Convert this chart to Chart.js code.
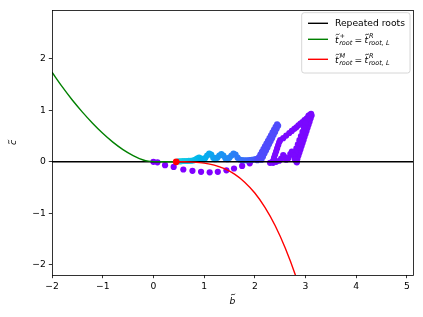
<!DOCTYPE html>
<html><head><meta charset="utf-8">
<script src="https://cdn.jsdelivr.net/npm/chart.js@4"></script>
<style>html,body{margin:0;padding:0;background:#fff;}canvas{display:block;}</style>
</head><body>
<canvas id="c" width="423" height="317"></canvas>
<script>
const xTicks=[-2,-1,0,1,2,3,4,5];
const yTicks=[-2,-1,0,1,2];
const xRange=[-2,5.12];
const yRange=[-2.2,2.95];

const repeatedX=[-2,5.12];
const repeatedY=[0,0];

const greenX=[-2,-1.8,-1.6,-1.4,-1.2,-1.0,-0.8,-0.6,-0.4,-0.2,-0.1,0,0.2,0.45];
const greenY=[1.74,1.46,1.20,0.965,0.75,0.554,0.383,0.238,0.122,0.035,0.012,0.004,0,0];

const redX=[0.45,0.6,0.8,1.0,1.2,1.4,1.6,1.8,2.0,2.2,2.4,2.6,2.8,2.85];
const redY=[0,-0.0004,-0.006,-0.025,-0.064,-0.133,-0.241,-0.396,-0.607,-0.885,-1.237,-1.674,-2.2,-2.36];

const dotX=[0.45];
const dotY=[0];

const arcX=[0.00,0.08,0.23,0.40,0.59,0.77,0.94,1.11,1.27,1.44,1.59,1.75,1.90];
const arcY=[0.00,-0.01,-0.065,-0.10,-0.15,-0.175,-0.195,-0.205,-0.195,-0.165,-0.13,-0.08,-0.03];
const arcC=0.0;

const bandX=[0.50,0.54,0.58,0.62,0.66,0.70,0.74,0.78,0.82,0.86,0.90,0.94,0.98,1.02,1.06,1.10,1.14,1.18,1.22,1.26,1.30,1.34,1.38,1.42,1.46,1.50,1.54,1.58,1.62,1.66,1.70,1.74,1.78,1.82,1.86,1.90,1.94,1.98,2.02,2.06];
const bandY=[0.01,0.01,0.015,0.015,0.015,0.02,0.02,0.025,0.04,0.06,0.08,0.06,0.04,0.07,0.12,0.16,0.14,0.08,0.05,0.08,0.12,0.15,0.12,0.07,0.05,0.08,0.12,0.16,0.14,0.08,0.045,0.035,0.03,0.03,0.03,0.035,0.04,0.045,0.05,0.05];
const bandC=[0.30,0.30,0.295,0.29,0.285,0.28,0.275,0.27,0.265,0.26,0.255,0.25,0.245,0.24,0.235,0.23,0.225,0.22,0.215,0.21,0.205,0.20,0.195,0.19,0.185,0.18,0.175,0.17,0.165,0.16,0.155,0.15,0.145,0.14,0.135,0.13,0.125,0.12,0.115,0.11];

const spikeX=[2.05,2.08,2.11,2.14,2.17,2.20,2.23,2.26,2.29,2.32,2.35,2.38,2.41,2.44,2.46,2.43,2.40,2.37,2.34,2.31,2.28,2.25,2.22,2.19,2.16,2.13];
const spikeY=[0.03,0.084,0.138,0.192,0.246,0.30,0.354,0.408,0.462,0.516,0.57,0.624,0.678,0.73,0.70,0.64,0.58,0.52,0.46,0.40,0.34,0.28,0.22,0.16,0.10,0.04];
const spikeC=0.095;

const loopX=[2.36,2.38,2.40,2.42,2.44,2.46,2.48,2.50,
 2.56,2.62,2.68,2.73,2.78,2.82,2.86,2.90,2.94,2.98,3.02,3.06,3.09,3.11,
 3.12,3.10,3.08,3.06,3.04,3.02,3.00,2.98,2.96,2.94,2.92,2.90,2.88,2.86,2.84,2.82,
 3.06,3.03,3.00,2.97,2.94,2.91,2.88,2.85,2.82,2.80,2.78,
 2.30,2.36,2.42,2.48,2.52,2.56,2.59,2.62,2.66,2.70,2.73,2.76,2.79,2.83];
const loopY=[0.02,0.08,0.14,0.20,0.26,0.32,0.38,0.42,
 0.46,0.51,0.56,0.60,0.64,0.67,0.71,0.74,0.77,0.81,0.84,0.88,0.91,0.93,
 0.90,0.84,0.78,0.72,0.66,0.60,0.54,0.48,0.42,0.36,0.30,0.24,0.18,0.12,0.06,0.00,
 0.90,0.82,0.74,0.66,0.58,0.50,0.42,0.34,0.26,0.18,0.10,
 -0.02,-0.02,0.0,0.02,0.06,0.13,0.09,0.04,0.07,0.15,0.20,0.13,0.05,-0.01];
const loopC=0.01;

function rainbow(c){
  const r=Math.abs(2*c-0.5), g=Math.sin(Math.PI*c), b=Math.cos(Math.PI*c/2);
  return 'rgb('+Math.round(r*255)+','+Math.round(g*255)+','+Math.round(b*255)+')';
}
const pts=(xs,ys)=>xs.map((x,i)=>({x:x,y:ys[i]}));
const FONT='"DejaVu Sans"';
const FS=9.2;
function fmt(v){return v<0?'\u2212'+Math.abs(v):String(v);}

function scatterDS(xs,ys,colors,order){
  return {type:'scatter',data:pts(xs,ys),showLine:false,pointRadius:3.1,pointBorderWidth:0,
    pointBackgroundColor:colors,pointHoverRadius:3.1,order:order};
}
function tilde(ctx,cx,cy,w){
  const x0=cx-w/2;
  ctx.save();
  ctx.beginPath();
  ctx.moveTo(x0,cy+0.7);
  ctx.bezierCurveTo(x0+w*0.3,cy-1.3,x0+w*0.7,cy+1.3,x0+w,cy-0.7);
  ctx.lineWidth=0.75;ctx.strokeStyle='#000';ctx.stroke();
  ctx.restore();
}

const framePlugin={
  id:'frame',
  afterDraw(chart){
    const ctx=chart.ctx, a=chart.chartArea;
    ctx.save();
    ctx.strokeStyle='#000'; ctx.lineWidth=0.8;
    ctx.strokeRect(Math.round(a.left)+0.5,Math.round(a.top)+0.5,Math.round(a.right-a.left),Math.round(a.bottom-a.top));
    // axis titles
    ctx.fillStyle='#000';
    ctx.font='italic '+FS+'px '+FONT;
    ctx.textAlign='left'; ctx.textBaseline='alphabetic';
    const cxl=(a.left+a.right)/2;
    const wb=ctx.measureText('b').width;
    ctx.fillText('b',cxl-wb/2,304);
    tilde(ctx,cxl+0.6,294.5,4.2);
    ctx.save();
    ctx.translate(16,(a.top+a.bottom)/2);
    ctx.rotate(-Math.PI/2);
    const wc=ctx.measureText('c').width;
    ctx.fillText('c',-wc/2,0);
    tilde(ctx,0.6,-7.3,4.2);
    ctx.restore();
    // legend
    const bx=a.right-111.3, by=a.top+2.7, bw=108.3, bh=60.3;
    ctx.beginPath();
    const r=2.5;
    ctx.moveTo(bx+r,by);ctx.lineTo(bx+bw-r,by);ctx.quadraticCurveTo(bx+bw,by,bx+bw,by+r);
    ctx.lineTo(bx+bw,by+bh-r);ctx.quadraticCurveTo(bx+bw,by+bh,bx+bw-r,by+bh);
    ctx.lineTo(bx+r,by+bh);ctx.quadraticCurveTo(bx,by+bh,bx,by+bh-r);
    ctx.lineTo(bx,by+r);ctx.quadraticCurveTo(bx,by,bx+r,by);ctx.closePath();
    ctx.fillStyle='rgba(255,255,255,0.8)';ctx.fill();
    ctx.strokeStyle='#cccccc';ctx.lineWidth=0.8;ctx.stroke();
    const hx0=bx+6.3, hx1=bx+26.3, tx=bx+33.3;
    const rows=[{y:by+10.6,c:'#000'},{y:by+26.6,c:'#008000'},{y:by+46.6,c:'#ff0000'}];
    rows.forEach(rw=>{ctx.beginPath();ctx.moveTo(hx0,rw.y);ctx.lineTo(hx1,rw.y);ctx.strokeStyle=rw.c;ctx.lineWidth=1.4;ctx.stroke();});
    ctx.fillStyle='#000';
    ctx.textAlign='left';ctx.textBaseline='middle';
    ctx.font=FS+'px '+FONT;
    ctx.fillText('Repeated roots',tx,rows[0].y);
    ctx.textBaseline='alphabetic';
    drawEq(ctx,tx,rows[1].y+3.3,'+');
    drawEq(ctx,tx,rows[2].y+3.3,'M');
    ctx.restore();
  }
};
function drawTerm(ctx,x,y,sup,sub){
  ctx.font='italic '+FS+'px '+FONT;
  ctx.fillText('t',x,y);
  const wt=ctx.measureText('t').width;
  tilde(ctx,x+wt/2+0.8,y-8.2,3.8);
  x+=wt+0.6;
  ctx.font='italic 6.5px '+FONT;
  const ws=ctx.measureText(sup).width, wb=ctx.measureText(sub).width;
  ctx.fillText(sup,x+0.4,y-4.6);
  ctx.fillText(sub,x,y+2.4);
  return x+Math.max(ws,wb);
}
function drawEq(ctx,x,y,sup){
  x=drawTerm(ctx,x,y,sup,'root');
  ctx.font=FS+'px '+FONT;
  x+=2.2;
  ctx.fillText('=',x,y);
  x+=ctx.measureText('=').width+2.2;
  drawTerm(ctx,x,y,'R','root, L');
}

const axisCommon={
  grid:{drawOnChartArea:false,drawTicks:true,tickLength:3.2,color:'#000',lineWidth:0.8},
  border:{display:false},
  ticks:{padding:3,color:'#000',font:{family:'DejaVu Sans',size:FS},callback:v=>fmt(v),maxRotation:0,autoSkip:false}
};

new Chart(document.getElementById('c'),{
  data:{datasets:[
    scatterDS(arcX,arcY,rainbow(arcC),14),
    scatterDS(bandX,bandY,bandC.map(rainbow),13),
    scatterDS(loopX,loopY,rainbow(loopC),12),
    scatterDS(spikeX,spikeY,rainbow(spikeC),11),
    {type:'line',data:pts(repeatedX,repeatedY),borderColor:'#000',borderWidth:1.4,pointRadius:0,order:3},
    {type:'line',data:pts(greenX,greenY),borderColor:'#008000',borderWidth:1.4,pointRadius:0,cubicInterpolationMode:'monotone',order:2},
    {type:'line',data:pts(redX,redY),borderColor:'#ff0000',borderWidth:1.4,pointRadius:0,cubicInterpolationMode:'monotone',order:1},
    {type:'scatter',data:pts(dotX,dotY),pointRadius:3.4,pointBorderWidth:0,pointBackgroundColor:'#ff0000',order:0}
  ]},
  options:{
    responsive:false,animation:false,devicePixelRatio:1,
    layout:{padding:{left:0,right:10,top:10,bottom:0}},
    plugins:{legend:{display:false},tooltip:{enabled:false}},
    scales:{
      x:Object.assign({type:'linear',min:xRange[0],max:xRange[1],
        afterFit(s){s.height=42;},
        afterBuildTicks(s){s.ticks=xTicks.map(v=>({value:v}));}},axisCommon),
      y:Object.assign({type:'linear',min:yRange[0],max:yRange[1],
        afterFit(s){s.width=52;},
        afterBuildTicks(s){s.ticks=yTicks.map(v=>({value:v}));}},axisCommon)
    }
  },
  plugins:[framePlugin]
});
</script>
</body></html>
